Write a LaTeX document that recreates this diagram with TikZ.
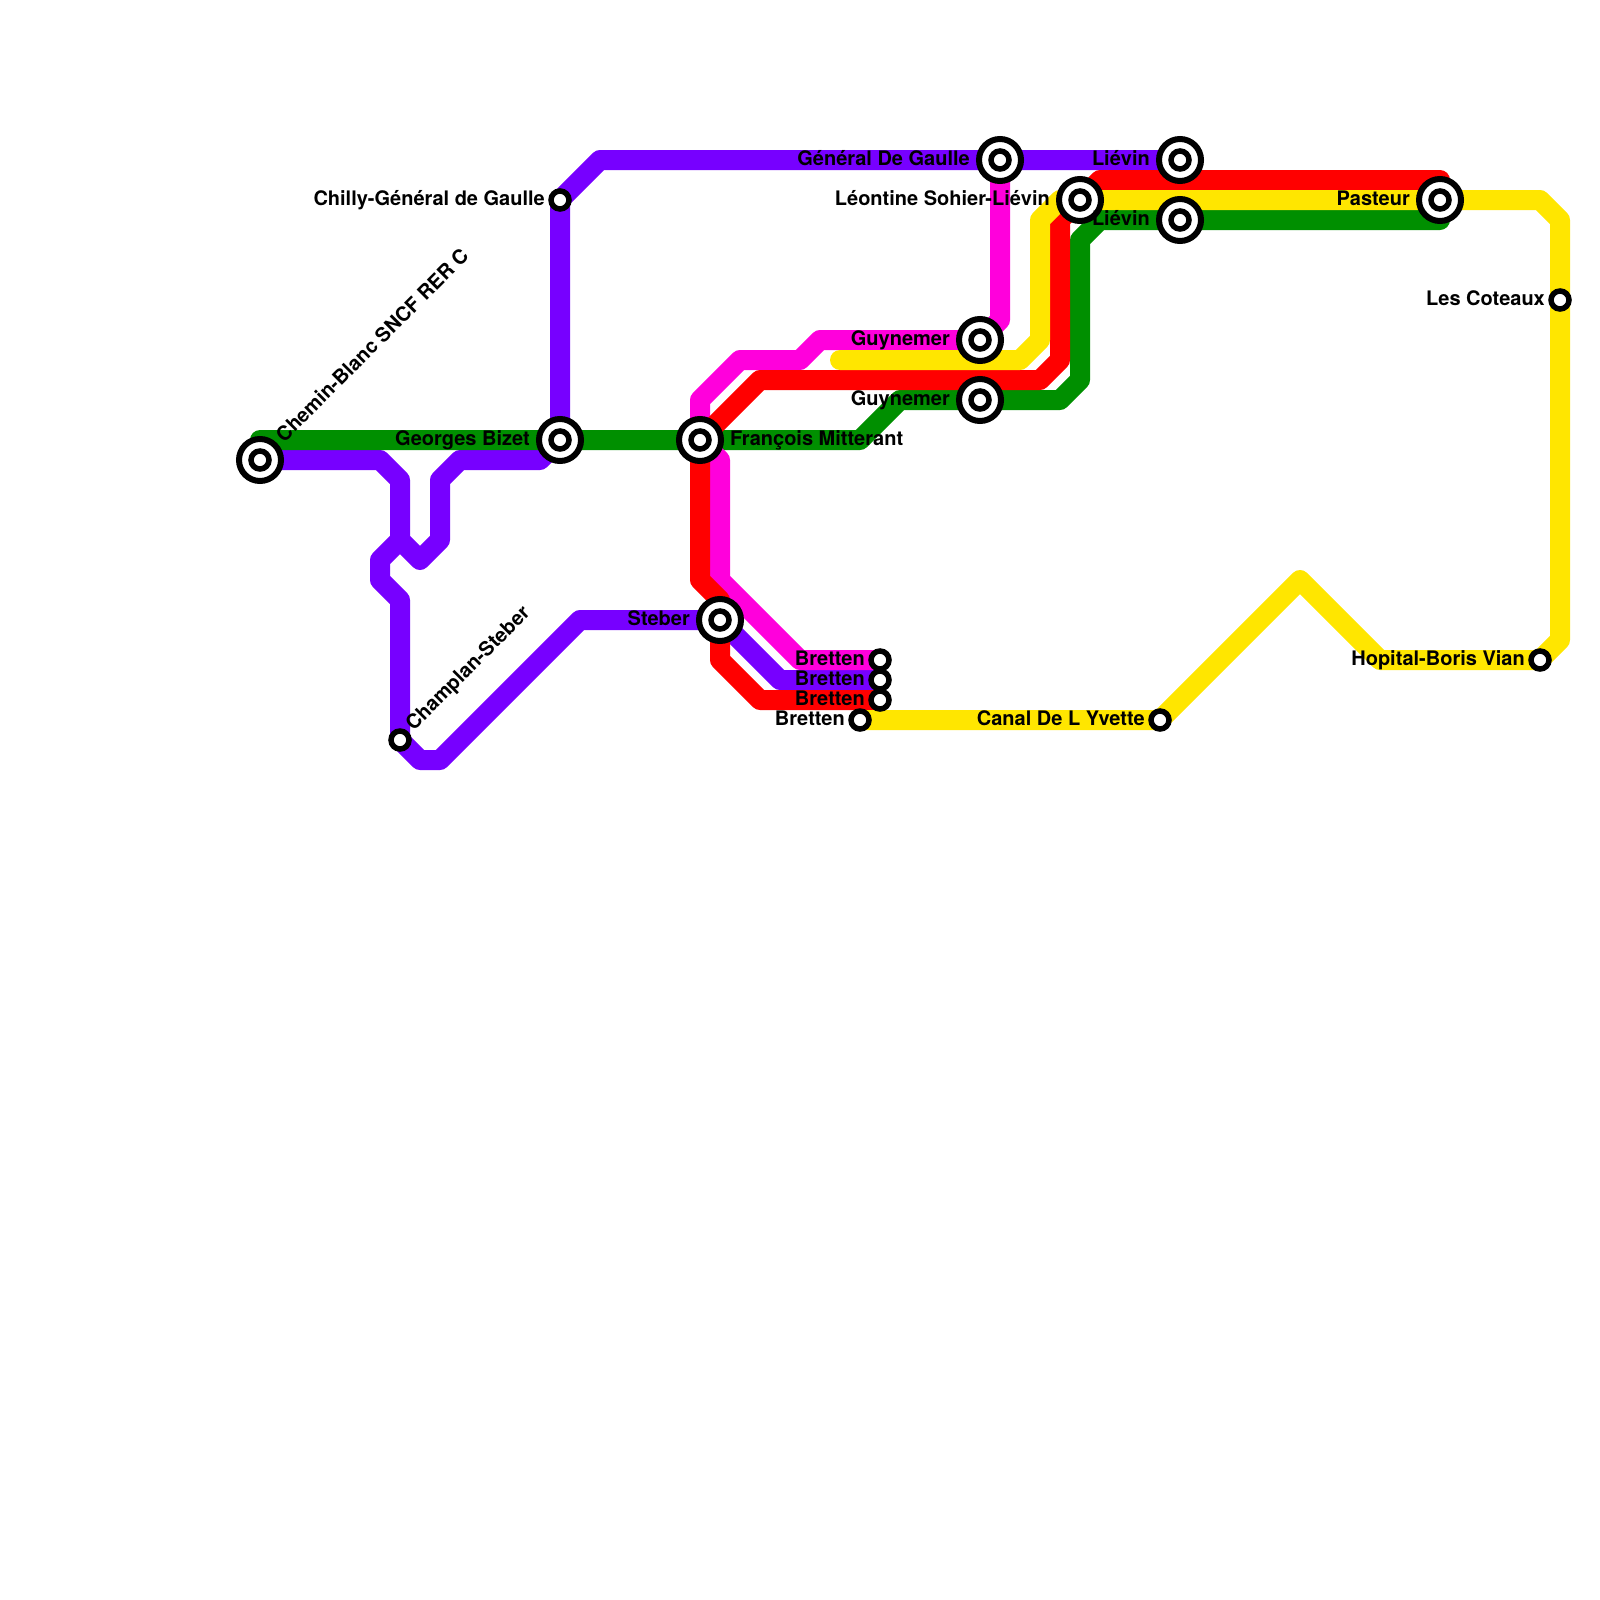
\documentclass[tikz,border=0pt]{standalone}
\usepackage{fontspec}
\setmainfont{TeX Gyre Heros}
\usepackage{xcolor}
\definecolor{linepurple}{HTML}{7700FF}
\definecolor{linepink}{HTML}{FF00DC}
\definecolor{linered}{HTML}{FF0000}
\definecolor{lineyellow}{HTML}{FFE600}
\definecolor{linegreen}{HTML}{008F00}
\tikzset{
  metro/.style={line width=20pt, line join=round, line cap=round},
  ringstop/.style={circle, draw=black, fill=white, line width=6pt, minimum size=42pt, inner sep=0pt},
  stop/.style={circle, draw=black, fill=white, line width=5.5pt, minimum size=18pt, inner sep=0pt},
  stoplabel/.style={font=\fontsize{20}{22}\selectfont\bfseries, inner sep=0pt},
}
\begin{document}
\begin{tikzpicture}[x=1pt, y=-1pt]
\useasboundingbox (0,0) rectangle (1600,1600);
% stations
\coordinate (chemin) at (260,460);
\coordinate (chilly) at (560,200);
\coordinate (bizet) at (560,440);
\coordinate (champlan) at (400,740);
\coordinate (mitterant) at (700,440);
\coordinate (steber) at (720,620);
\coordinate (gaulle) at (1000,160);
\coordinate (lievinA) at (1180,160);
\coordinate (lievinB) at (1180,220);
\coordinate (sohier) at (1080,200);
\coordinate (guynemerA) at (980,340);
\coordinate (guynemerB) at (980,400);
\coordinate (pasteur) at (1440,200);
\coordinate (coteaux) at (1560,300);
\coordinate (vian) at (1540,660);
\coordinate (yvette) at (1160,720);
\coordinate (brettenA) at (880,660);
\coordinate (brettenB) at (880,680);
\coordinate (brettenC) at (880,700);
\coordinate (brettenD) at (860,720);
% lines
\draw[metro, linepurple] (bizet) -- (540,460) -- (460,460) -- (440,480) -- (440,540) -- (420,560) -- (400,540) -- (400,480) -- (380,460) -- (chemin);
\draw[metro, linepurple] (400,540) -- (380,560) -- (380,580) -- (400,600) -- (champlan) -- (420,760) -- (440,760) -- (580,620) -- (steber) -- (780,680) -- (brettenB);
\draw[metro, linepurple] (bizet) -- (chilly) -- (600,160) -- (gaulle) -- (lievinA);
\draw[metro, linegreen] (chemin) -- (260,440) -- (bizet) -- (mitterant) -- (860,440) -- (900,400) -- (guynemerB) -- (1060,400) -- (1080,380) -- (1080,240) -- (1100,220) -- (lievinB) -- (1440,220) -- (pasteur);
\draw[metro, linepink] (brettenA) -- (800,660) -- (720,580) -- (720,460) -- (mitterant) -- (700,400) -- (740,360) -- (800,360) -- (820,340) -- (guynemerA) -- (1000,320) -- (gaulle);
\draw[metro, linered] (brettenC) -- (760,700) -- (720,660) -- (steber) -- (720,600) -- (700,580) -- (mitterant) -- (760,380) -- (1040,380) -- (1060,360) -- (1060,220) -- (sohier) -- (1100,180) -- (1440,180) -- (pasteur);
\draw[metro, lineyellow] (840,360) -- (1020,360) -- (1040,340) -- (1040,220) -- (1060,200) -- (sohier) -- (pasteur) -- (1540,200) -- (1560,220) -- (coteaux) -- (1560,640) -- (vian) -- (1380,660) -- (1300,580) -- (yvette) -- (brettenD);
% station marks
\foreach \s in {chemin,bizet,mitterant,steber,gaulle,lievinA,lievinB,sohier,guynemerA,guynemerB,pasteur}
    \node[ringstop] (ring\s) at (\s) {};
\foreach \s in {chemin,chilly,bizet,champlan,mitterant,steber,gaulle,lievinA,lievinB,sohier,guynemerA,guynemerB,pasteur,coteaux,vian,yvette,brettenA,brettenB,brettenC,brettenD}
    \node[stop] (stop\s) at (\s) {};
% labels
\foreach \s/\dx/\t in {chilly/-15/Chilly-Général de Gaulle, bizet/-30/Georges Bizet, steber/-30/Steber, gaulle/-30/Général De Gaulle, lievinA/-30/Liévin, lievinB/-30/Liévin, sohier/-30/Léontine Sohier-Liévin, guynemerA/-30/Guynemer, guynemerB/-30/Guynemer, pasteur/-30/Pasteur, coteaux/-15/Les Coteaux, vian/-15/Hopital-Boris Vian, yvette/-15/Canal De L Yvette, brettenA/-15/Bretten, brettenB/-15/Bretten, brettenC/-15/Bretten, brettenD/-15/Bretten}
    \node[stoplabel, anchor=base east] (label\s) at ([xshift=\dx pt, yshift=-5pt]\s) {\t};
\node[stoplabel, anchor=base west] (labelmitterant) at ([xshift=30pt, yshift=-5pt]mitterant) {François Mitterant};
\node[stoplabel, anchor=west, rotate=45] (labelchemin) at ([xshift=19pt, yshift=22pt]chemin) {Chemin-Blanc SNCF RER C};
\node[stoplabel, anchor=west, rotate=45] (labelchamplan) at ([xshift=10pt, yshift=12pt]champlan) {Champlan-Steber};
\end{tikzpicture}
\end{document}
